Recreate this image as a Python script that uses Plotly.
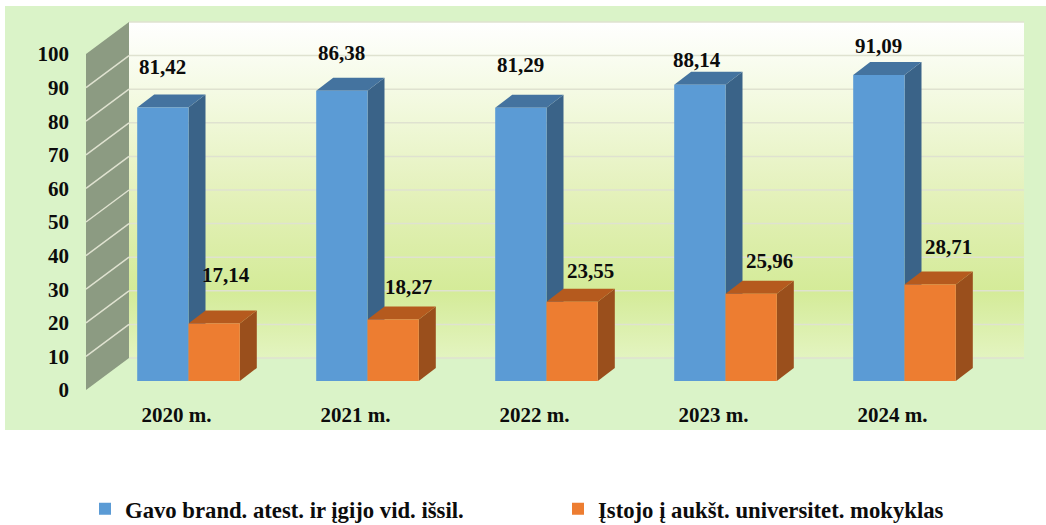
import plotly.graph_objects as go

# ========================================================
# Data
# ========================================================
years = ["2020 m.", "2021 m.", "2022 m.", "2023 m.", "2024 m."]
atest = [81.42, 86.38, 81.29, 88.14, 91.09]
stojo = [17.14, 18.27, 23.55, 25.96, 28.71]
name_atest = "Gavo brand. atest. ir įgijo vid. išsil."
name_stojo = "Įstojo į aukšt. universitet. mokyklas"
y_ticks = [0, 10, 20, 30, 40, 50, 60, 70, 80, 90, 100]

# hand placed data labels in the reference (pixels from top of the bar face)
atest_dx = [0, 0, 0, -3, 0]
atest_dy = [40, 38, 43, 25, 29]
stojo_dx = [12, 15, 18, 18, 18]
stojo_dy = [48, 33, 31, 33, 38]

# ========================================================
# Geometry (pixels per data unit, depth of bars and of walls)
# ========================================================
W, H = 1046, 525
L, R, T, B = 70, 1030, 6, 400
PX_X = 179.0      # pixels per category
PX_Y = 3.36       # pixels per value unit
X0_PX = 188.5     # pixel of category 0
Y0_PX = 381.0     # pixel of value 0 on the bar face

bar_w = 51.3 / PX_X
bar_dx, bar_dy = 17 / PX_X, 13 / PX_Y
wall_left = (86 - X0_PX) / PX_X
wall_back = (129 - X0_PX) / PX_X
wall_right = (1024 - X0_PX) / PX_X
front_0 = (Y0_PX - 390) / PX_Y
back_0 = (Y0_PX - 358) / PX_Y

x_range = [(L - X0_PX) / PX_X, (R - X0_PX) / PX_X]
y_range = [(Y0_PX - B) / PX_Y, (Y0_PX - T) / PX_Y]

FONT = "Liberation Serif"
INK = "#0c0c0c"
GRID = "#dfe2d0"
text_font = dict(family=FONT, size=21, color=INK, weight="bold")

fig = go.Figure()


def poly(xs, ys, color):
    fig.add_trace(go.Scatter(x=xs, y=ys, mode="lines", fill="toself", fillcolor=color,
                             line=dict(width=0, color=color), showlegend=False, hoverinfo="skip"))


# Walls
# --------------------------------------------------------
fig.add_trace(go.Scatter(
    x=[wall_back, wall_right, wall_right, wall_back, wall_back],
    y=[back_0, back_0, back_0 + 100, back_0 + 100, back_0],
    mode="lines", fill="toself", line=dict(width=0), showlegend=False, hoverinfo="skip",
    fillgradient=dict(type="vertical", colorscale=[
        [0.0, "#e3f4c0"], [0.2, "#d4eb98"], [0.45, "#e2f0b6"], [0.75, "#f2f9de"], [1.0, "#ffffff"]]),
))
poly([wall_left, wall_back, wall_back, wall_left, wall_left],
     [front_0, back_0, back_0 + 100, front_0 + 100, front_0], "#8c9b82")

for v in y_ticks:
    fig.add_trace(go.Scatter(x=[wall_back, wall_right], y=[back_0 + v, back_0 + v], mode="lines",
                             line=dict(width=1.5, color=GRID), showlegend=False, hoverinfo="skip"))
    if 0 < v < 100:
        fig.add_trace(go.Scatter(x=[wall_left, wall_back], y=[front_0 + v, back_0 + v], mode="lines",
                                 line=dict(width=1.5, color=GRID), showlegend=False, hoverinfo="skip"))

# Bar sides and tops, the faces are go.Bar on the overlaying axes
# --------------------------------------------------------
for i in range(len(years)):
    for left, v, top_col, side_col in [(i - bar_w, atest[i], "#44739f", "#3a6388"),
                                       (i, stojo[i], "#b55a1e", "#9a4f1c")]:
        right = left + bar_w
        poly([right, right + bar_dx, right + bar_dx, right, right],
             [0, bar_dy, v + bar_dy, v, 0], side_col)
        poly([left, left + bar_dx, right + bar_dx, right, left],
             [v, v + bar_dy, v + bar_dy, v, v], top_col)

xs = list(range(len(years)))
fig.add_trace(go.Bar(x=xs, y=atest, name=name_atest, marker=dict(color="#5b9bd5", line=dict(width=0)),
                     width=bar_w, offset=-bar_w, xaxis="x2", yaxis="y2", hoverinfo="skip", legend="legend"))
fig.add_trace(go.Bar(x=xs, y=stojo, name=name_stojo, marker=dict(color="#ed7d31", line=dict(width=0)),
                     width=bar_w, offset=0, xaxis="x2", yaxis="y2", hoverinfo="skip", legend="legend2"))

# Data labels
# --------------------------------------------------------
for i in xs:
    for cx, v, dx, dy in [(i - bar_w / 2, atest[i], atest_dx[i], atest_dy[i]),
                          (i + bar_w / 2, stojo[i], stojo_dx[i], stojo_dy[i])]:
        fig.add_annotation(x=cx, y=v, text=f"{v:.2f}".replace(".", ","), showarrow=False,
                           xshift=dx, yshift=dy, font=text_font)

plot_w, plot_h = R - L, B - T
fig.add_shape(type="rect", xref="paper", yref="paper", layer="below", line=dict(width=0),
              fillcolor="#daf3c8", x0=(5 - L) / plot_w, x1=(W - L) / plot_w,
              y0=(B - 430) / plot_h, y1=(B - 6) / plot_h)

legend_font = dict(family=FONT, size=22.7, color=INK, weight="bold")
fig.update_layout(
    width=W, height=H,
    margin=dict(l=L, r=W - R, t=T, b=H - B, pad=0, autoexpand=False),
    paper_bgcolor="white", plot_bgcolor="rgba(0,0,0,0)",
    barmode="overlay",
    xaxis=dict(range=x_range, tickvals=[i - 12 / PX_X for i in xs], ticktext=years,
               showgrid=False, zeroline=False, showline=False, ticks="", tickfont=text_font),
    yaxis=dict(range=y_range, tickvals=[front_0 + v for v in y_ticks], ticktext=[str(v) for v in y_ticks],
               showgrid=False, zeroline=False, showline=False, ticks="", tickfont=text_font),
    xaxis2=dict(range=x_range, overlaying="x", visible=False),
    yaxis2=dict(range=y_range, overlaying="y", visible=False),
    legend=dict(x=(85 - L) / plot_w, xanchor="left", y=(B - 509) / plot_h, yanchor="middle",
                bgcolor="rgba(0,0,0,0)", font=legend_font),
    legend2=dict(x=(558 - L) / plot_w, xanchor="left", y=(B - 509) / plot_h, yanchor="middle",
                 bgcolor="rgba(0,0,0,0)", font=legend_font),
)

fig.write_html("out.html", config=dict(displayModeBar=False), post_script="document.body.style.margin='0'")
